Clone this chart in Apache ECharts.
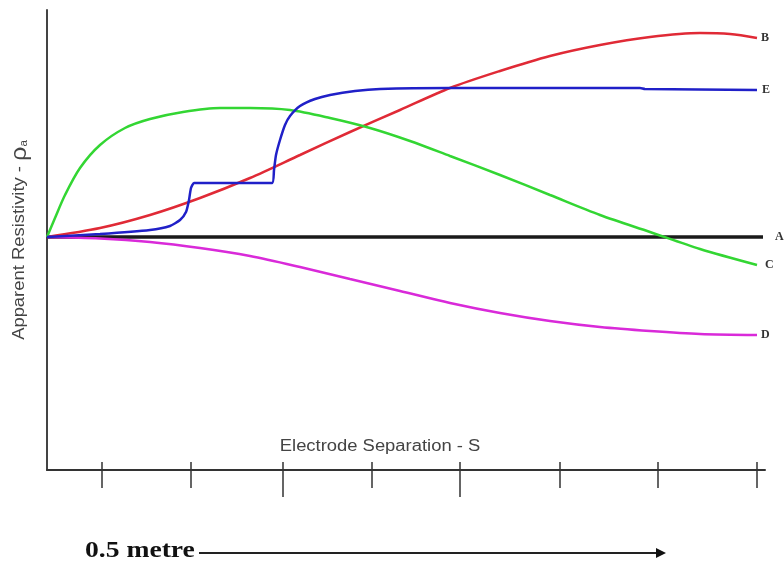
<!DOCTYPE html>
<html>
<head>
<meta charset="utf-8">
<script src="https://cdn.jsdelivr.net/npm/echarts@6/dist/echarts.min.js"></script>
<style>html,body{margin:0;padding:0;background:#fff}#c{width:784px;height:565px}</style>
</head>
<body>
<div id="c"></div>
<script>
// x: electrode separation (relative units), y: apparent resistivity relative to A (relative units)
const tickPositions = [55, 144, 236, 325, 413, 513, 611, 710];
const longTicks = [236, 413];

const curveA = [[0, 0], [716, 0]];
const curveB = [[0,0],[53,9],[103,22],[153,39],[203,59],[253,82],[303,105],[353,127],[403,149],[453,166],[503,181],[553,192],[603,200],[653,204],[683,203],[710,199]];
const curveC = [[0,0],[8,19],[18,42],[33,69],[53,92],[78,109],[103,118],[136,125],[173,129],[203,129],[243,127],[283,119],[323,109],[363,96],[403,81],[453,62],[503,42],[553,22],[603,5],[653,-12],[710,-28]];
const curveD = [[0,0],[53,-1.5],[103,-5],[153,-11],[203,-19],[253,-30],[303,-42],[353,-54],[403,-66],[453,-76],[503,-84],[553,-90],[603,-94],[653,-97],[710,-98]];
const curveE = [[0,0],[53,3],[103,7],[123,11],[133,17],[139,25],[142,37],[144,49],[147,54],[153,54],[225,54],[227,67],[229,82],[233,97],[238,112],[243,121],[253,131],[268,138],[283,142],[308,146],[333,148],[403,149],[593,149],[598,148],[710,147]];

const chart = echarts.init(document.getElementById('c'), null, {renderer: 'canvas'});

const labelStyle = {show: true, formatter: '{a}', fontFamily: 'Liberation Serif', fontWeight: 'bold', fontSize: 12, color: '#333', distance: 5};

function mk(name, data, color, width, smooth, dist) {
  return {
    name: name, type: 'line', data: data, showSymbol: false, symbol: 'none',
    smooth: smooth, lineStyle: {color: color, width: width}, itemStyle: {color: color},
    endLabel: Object.assign({}, labelStyle, {distance: dist}),
    animation: false, z: 2
  };
}

const xBase = {type: 'value', min: 0, max: 718, position: 'bottom', offset: 0,
  splitLine: {show: false}, axisLabel: {show: false}};

chart.setOption({
  animation: false,
  grid: {left: 47, right: 19, top: 10, bottom: 95},
  xAxis: [
    Object.assign({}, xBase, {
      axisLine: {show: true, onZero: false, lineStyle: {color: '#333', width: 2}},
      axisTick: {show: true, inside: false, length: 18, customValues: tickPositions, lineStyle: {color: '#333', width: 1.5}}
    }),
    Object.assign({}, xBase, {
      axisLine: {show: false, onZero: false},
      axisTick: {show: true, inside: false, length: 27, customValues: longTicks, lineStyle: {color: '#333', width: 1.5}}
    }),
    Object.assign({}, xBase, {
      axisLine: {show: false, onZero: false},
      axisTick: {show: true, inside: true, length: 8, customValues: tickPositions, lineStyle: {color: '#333', width: 1.5}}
    })
  ],
  yAxis: {
    type: 'value', min: -233, max: 227,
    axisLine: {show: true, onZero: false, lineStyle: {color: '#444', width: 2}},
    axisTick: {show: false}, axisLabel: {show: false}, splitLine: {show: false}
  },
  series: [
    mk('A', curveA, '#1a1a1a', 3.5, false, 12),
    mk('B', curveB, '#e02a36', 2.5, 0.3, 4),
    mk('C', curveC, '#33d633', 2.5, 0.3, 8),
    mk('D', curveD, '#d92ad9', 2.5, 0.3, 4),
    mk('E', curveE, '#2020c8', 2.5, 0.2, 5)
  ],
  graphic: [
    {type: 'text', x: 20, y: 240, rotation: Math.PI / 2, scaleX: 1.15,
      style: {text: '{n|Apparent Resistivity - }{r|ρ}{s|a}', align: 'center', verticalAlign: 'middle',
        rich: {
          n: {fontFamily: 'Liberation Sans', fontSize: 16, fill: '#444', color: '#444'},
          r: {fontFamily: 'Liberation Sans', fontSize: 22, fill: '#444', color: '#444'},
          s: {fontFamily: 'Liberation Sans', fontSize: 10, fill: '#444', color: '#444', padding: [8, 0, 0, 0]}
        }}},
    {type: 'text', x: 380, y: 447, scaleX: 1.15,
      style: {text: 'Electrode Separation - S', align: 'center', verticalAlign: 'middle',
        fontFamily: 'Liberation Sans', fontSize: 16, fill: '#444'}},
    {type: 'text', x: 85, y: 551, scaleX: 1.15,
      style: {text: '0.5 metre', align: 'left', verticalAlign: 'middle',
        fontFamily: 'Liberation Serif', fontWeight: 'bold', fontSize: 24, fill: '#111'}},
    {type: 'line', shape: {x1: 199, y1: 553, x2: 658, y2: 553}, style: {stroke: '#222', lineWidth: 2}},
    {type: 'polygon', shape: {points: [[666, 553], [656, 548], [656, 558]]}, style: {fill: '#111'}}
  ]
});
</script>
</body>
</html>
